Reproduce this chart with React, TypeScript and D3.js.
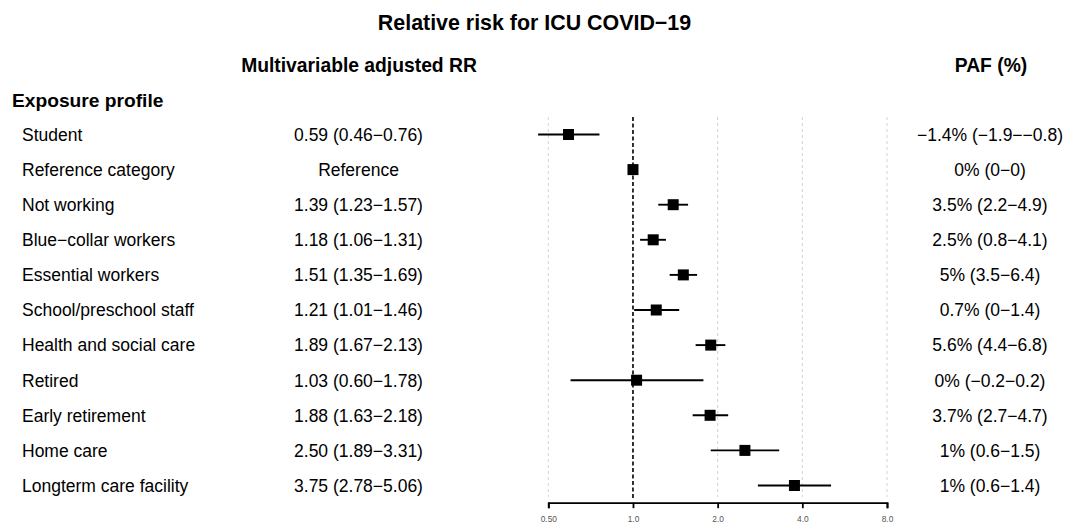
import { useEffect, useRef } from "react";
import * as d3 from "d3";

const width = 1074, height = 523;

const labels = [
  "Student",
  "Reference category",
  "Not working",
  "Blue−collar workers",
  "Essential workers",
  "School/preschool staff",
  "Health and social care",
  "Retired",
  "Early retirement",
  "Home care",
  "Longterm care facility",
];
const rr = [0.59, 1, 1.39, 1.18, 1.51, 1.21, 1.89, 1.03, 1.88, 2.5, 3.75];
const lower = [0.46, 1, 1.23, 1.06, 1.35, 1.01, 1.67, 0.6, 1.63, 1.89, 2.78];
const upper = [0.76, 1, 1.57, 1.31, 1.69, 1.46, 2.13, 1.78, 2.18, 3.31, 5.06];
const rrText = [
  "0.59 (0.46−0.76)",
  "Reference",
  "1.39 (1.23−1.57)",
  "1.18 (1.06−1.31)",
  "1.51 (1.35−1.69)",
  "1.21 (1.01−1.46)",
  "1.89 (1.67−2.13)",
  "1.03 (0.60−1.78)",
  "1.88 (1.63−2.18)",
  "2.50 (1.89−3.31)",
  "3.75 (2.78−5.06)",
];
const pafText = [
  "−1.4% (−1.9−−0.8)",
  "0% (0−0)",
  "3.5% (2.2−4.9)",
  "2.5% (0.8−4.1)",
  "5% (3.5−6.4)",
  "0.7% (0−1.4)",
  "5.6% (4.4−6.8)",
  "0% (−0.2−0.2)",
  "3.7% (2.7−4.7)",
  "1% (0.6−1.5)",
  "1% (0.6−1.4)",
];
const ticks = [0.5, 1, 2, 4, 8];
const tickLabels = ["0.50", "1.0", "2.0", "4.0", "8.0"];

const font = "'Liberation Sans', Arial, sans-serif";

const App = () => {
  const ref = useRef(null);

  useEffect(() => {
    const svg = d3
      .select(ref.current)
      .append("svg")
      .attr("width", width)
      .attr("height", height)
      .style("position", "absolute")
      .style("left", 0)
      .style("top", 0)
      .style("background", "#fff")
      .style("font-family", font);

    const rows = labels.map((l, i) => ({
      label: l, rr: rr[i], lo: lower[i], hi: upper[i], txt: rrText[i], paf: pafText[i],
    }));

    const x = d3.scaleLog().base(2).domain([0.5, 8]).range([548.3, 887]);
    const y = d3.scalePoint().domain(labels).range([134.5, 485.5]);

    // titles
    svg.append("text").attr("x", 534.5).attr("y", 29.5).attr("text-anchor", "middle")
      .attr("font-size", 21.4).attr("font-weight", "bold").text("Relative risk for ICU COVID−19");
    svg.append("text").attr("x", 359).attr("y", 71.5).attr("text-anchor", "middle")
      .attr("font-size", 19.3).attr("font-weight", "bold").text("Multivariable adjusted RR");
    svg.append("text").attr("x", 991).attr("y", 71.5).attr("text-anchor", "middle")
      .attr("font-size", 19.3).attr("font-weight", "bold").text("PAF (%)");
    svg.append("text").attr("x", 12).attr("y", 107).attr("font-size", 19.2)
      .attr("font-weight", "bold").text("Exposure profile");

    // grid
    svg.append("g")
      .selectAll("line")
      .data(ticks.filter(t => t !== 1))
      .join("line")
      .attr("x1", d => x(d)).attr("x2", d => x(d))
      .attr("y1", 117).attr("y2", 497)
      .attr("stroke", "#d6d6d6").attr("stroke-width", 1.1)
      .attr("stroke-dasharray", "3,3");

    svg.append("line")
      .attr("x1", x(1)).attr("x2", x(1)).attr("y1", 117).attr("y2", 498)
      .attr("stroke", "#000").attr("stroke-width", 1.6)
      .attr("stroke-dasharray", "4,2.5");

    // text columns
    const g = svg.append("g").attr("font-size", 17.5).attr("fill", "#000");
    g.selectAll(".lab").data(rows).join("text")
      .attr("x", 22).attr("y", d => y(d.label)!).attr("dy", "0.36em").text(d => d.label);
    g.selectAll(".rr").data(rows).join("text")
      .attr("x", 358.5).attr("y", d => y(d.label)!).attr("dy", "0.36em")
      .attr("text-anchor", "middle").text(d => d.txt);
    g.selectAll(".paf").data(rows).join("text")
      .attr("x", 990).attr("y", d => y(d.label)!).attr("dy", "0.36em")
      .attr("text-anchor", "middle").text(d => d.paf);

    // error bars and points
    svg.append("g").selectAll("line")
      .data(rows.filter(d => d.lo !== d.hi))
      .join("line")
      .attr("x1", d => x(d.lo)).attr("x2", d => x(d.hi))
      .attr("y1", d => y(d.label)!).attr("y2", d => y(d.label)!)
      .attr("stroke", "#000").attr("stroke-width", 1.9);

    const s = 11;
    svg.append("g").selectAll("rect")
      .data(rows)
      .join("rect")
      .attr("x", d => x(d.rr) - s / 2)
      .attr("y", d => y(d.label)! - s / 2)
      .attr("width", s).attr("height", s)
      .attr("fill", "#000");

    // axis
    const axis = svg.append("g")
      .attr("transform", `translate(0,502.7)`)
      .call(d3.axisBottom(x).tickValues(ticks).tickSizeOuter(0).tickSize(5.5)
        .tickFormat((_, i) => tickLabels[i]));
    axis.select(".domain").attr("stroke-width", 1.8);
    axis.selectAll(".tick line").attr("stroke-width", 1.8);
    axis.selectAll(".tick text").attr("font-size", 8.4).attr("fill", "#555")
      .attr("font-family", font).attr("dy", 0).attr("y", 19.2);

    return () => {
      d3.select(ref.current).select("svg").remove();
    };
  }, []);

  return <div ref={ref}></div>;
};

export default App;
